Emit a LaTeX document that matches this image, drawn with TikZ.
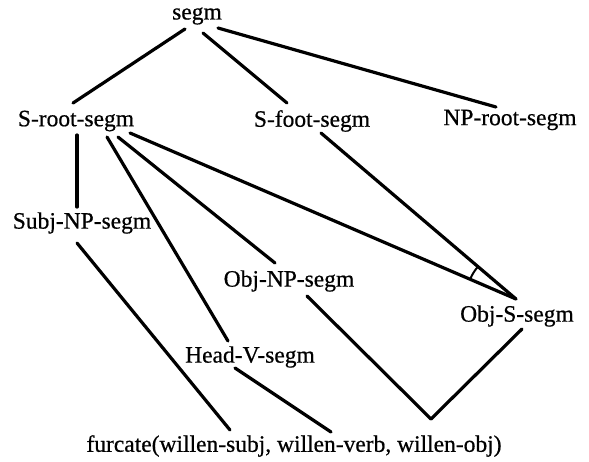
\documentclass[tikz,border=0pt]{standalone}
\usepackage{fontspec}
\setmainfont[FakeBold=0.6,AutoFakeBold=0.6]{Liberation Serif}
\usetikzlibrary{angles}
\begin{document}
\begin{tikzpicture}[x=1pt,y=-1pt,
  lbl/.style={inner sep=0pt, font=\fontsize{23.5}{28}\selectfont\bfseries},
  conn/.style={line width=3.2pt, line cap=round},
  anglemark/.style={draw, line width=2pt, angle radius=50pt}]
\useasboundingbox (0,0) rectangle (589,461);
% nodes
\node[lbl] (segm)   at (197,16)  {segm};
\node[lbl] (sroot)  at (76,121)  {S-root-segm};
\node[lbl] (sfoot)  at (312,121) {S-foot-segm};
\node[lbl] (nproot) at (510,120) {NP-root-segm};
\node[lbl] (subjnp) at (82,223)  {Subj-NP-segm};
\node[lbl] (objnp)  at (289,281) {Obj-NP-segm};
\node[lbl] (objs)   at (517,316) {Obj-S-segm};
\node[lbl] (headv)  at (250,357) {Head-V-segm};
\node[lbl] (furc)   at (294,446) {furcate(willen-subj, willen-verb, willen-obj)};
% free points
\coordinate (apex) at ([shift={(-1,-17)}]objs.center);
\coordinate (junc) at ([shift={(137,-27)}]furc.center);
\coordinate (srootobjs) at ([shift={(54,12)}]sroot.center);
\coordinate (sfootobjs) at ([shift={(9,12)}]sfoot.center);
% connectors
\draw[conn] ([shift={(-12,13)}]segm.center) -- ([shift={(-3,-18)}]sroot.center);
\draw[conn] ([shift={(6,17)}]segm.center) -- ([shift={(-25,-18)}]sfoot.center);
\draw[conn] ([shift={(21,12)}]segm.center) -- ([shift={(-14,-13)}]nproot.center);
\draw[conn] ([shift={(1,14)}]sroot.center) -- ([shift={(-5,-16)}]subjnp.center);
\draw[conn] ([shift={(31,16)}]sroot.center) -- ([shift={(-22,-16)}]headv.center);
\draw[conn] ([shift={(42,16)}]sroot.center) -- ([shift={(-14,-18)}]objnp.center);
\draw[conn] (srootobjs) -- (apex);
\draw[conn] (sfootobjs) -- (apex);
\draw[conn] ([shift={(-5,20)}]subjnp.center) -- ([shift={(-64,-16)}]furc.center);
\draw[conn] ([shift={(-15,11)}]headv.center) -- ([shift={(37,-14)}]furc.center);
\draw[conn] ([shift={(18,15)}]objnp.center) -- (junc);
\draw[conn] ([shift={(5,13)}]objs.center) -- (junc);
\pic[anglemark] {angle = sfootobjs--apex--srootobjs};
\end{tikzpicture}
\end{document}
